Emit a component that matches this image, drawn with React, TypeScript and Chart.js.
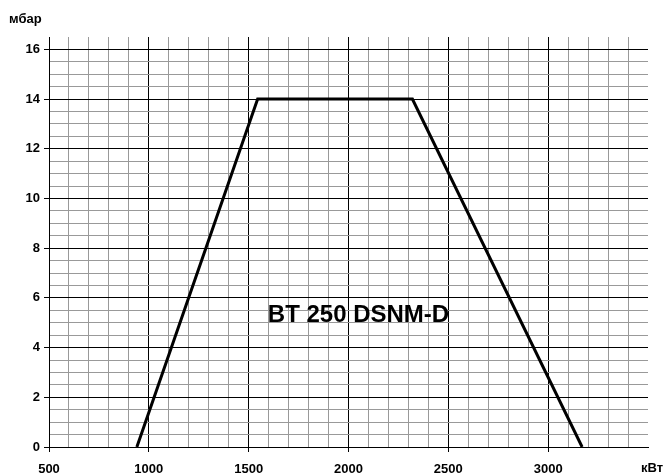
import React, { useEffect, useRef } from "react";
import { Chart, registerables } from "chart.js";

Chart.register(...registerables);

const powerKW = [940, 1545, 2320, 3170];
const pressureMbar = [0, 14, 14, 0];
const xRange = [500, 3500];
const yRange = [0, 16.5];
const modelLabel = "BT 250 DSNM-D";
const yUnit = "мбар";
const xUnit = "кВт";

const FONT = "'Liberation Sans', Arial, sans-serif";

const textPlugin = {
  id: "texts",
  afterDraw(chart: any) {
    const { ctx, scales } = chart;
    ctx.save();
    ctx.fillStyle = "#000";
    ctx.font = `bold 13px ${FONT}`;
    ctx.textAlign = "left";
    ctx.textBaseline = "alphabetic";
    ctx.fillText(yUnit, 9, 23);
    ctx.textAlign = "right";
    ctx.fillText(xUnit, 663, 472);
    ctx.font = `bold 24px ${FONT}`;
    ctx.textAlign = "center";
    ctx.textBaseline = "middle";
    ctx.fillText(modelLabel, scales.x.getPixelForValue(2050), scales.y.getPixelForValue(5.3));
    ctx.restore();
  },
};

export default function App() {
  const ref = useRef<HTMLCanvasElement>(null);
  useEffect(() => {
    const data = powerKW.map((x, i) => ({ x, y: pressureMbar[i] }));
    const chart = new Chart(ref.current!, {
      type: "line",
      data: {
        datasets: [
          {
            data,
            borderColor: "#000",
            borderWidth: 3,
            pointRadius: 0,
            fill: false,
            tension: 0,
          },
        ],
      },
      options: {
        animation: false,
        responsive: true,
        maintainAspectRatio: false,
        layout: { padding: { top: 37, right: 17, left: 0, bottom: 0 } },
        plugins: { legend: { display: false }, tooltip: { enabled: false } },
        scales: {
          x: {
            type: "linear",
            min: xRange[0],
            max: xRange[1],
            afterFit: (s: any) => {
              s.height = 29;
            },
            ticks: {
              stepSize: 100,
              autoSkip: false,
              maxRotation: 0,
              padding: 10,
              color: "#000",
              font: { family: FONT, size: 13, weight: "bold" },
              callback: (v: any) => (v % 500 === 0 && v < xRange[1] ? String(v) : ""),
            },
            grid: {
              tickLength: 5,
              lineWidth: 1,
              color: (c: any) => {
                const v = c.tick?.value;
                if (v === xRange[1]) return "rgba(0,0,0,0)";
                return v % 500 === 0 ? "#000" : "#999";
              },
              tickColor: (c: any) => {
                const v = c.tick?.value;
                return v % 500 === 0 && v < xRange[1] ? "#000" : "rgba(0,0,0,0)";
              },
            },
            border: { color: "#000", width: 1 },
          },
          y: {
            type: "linear",
            min: yRange[0],
            max: yRange[1],
            afterFit: (s: any) => {
              s.width = 49;
            },
            ticks: {
              stepSize: 0.5,
              autoSkip: false,
              padding: 4,
              color: "#000",
              font: { family: FONT, size: 13, weight: "bold" },
              callback: (v: any) => (v % 2 === 0 ? String(v) : ""),
            },
            grid: {
              tickLength: 5,
              lineWidth: 1,
              color: (c: any) => {
                const v = c.tick?.value;
                if (v === yRange[1]) return "rgba(0,0,0,0)";
                return v % 2 === 0 ? "#000" : "#999";
              },
              tickColor: (c: any) => {
                const v = c.tick?.value;
                return v % 2 === 0 ? "#000" : "rgba(0,0,0,0)";
              },
            },
            border: { color: "#000", width: 1 },
          },
        },
      },
      plugins: [textPlugin],
    });
    return () => chart.destroy();
  }, []);
  return (
    <div style={{ position: "absolute", left: 0, top: 0, width: 665, height: 476, background: "#fff" }}>
      <canvas ref={ref} />
    </div>
  );
}
